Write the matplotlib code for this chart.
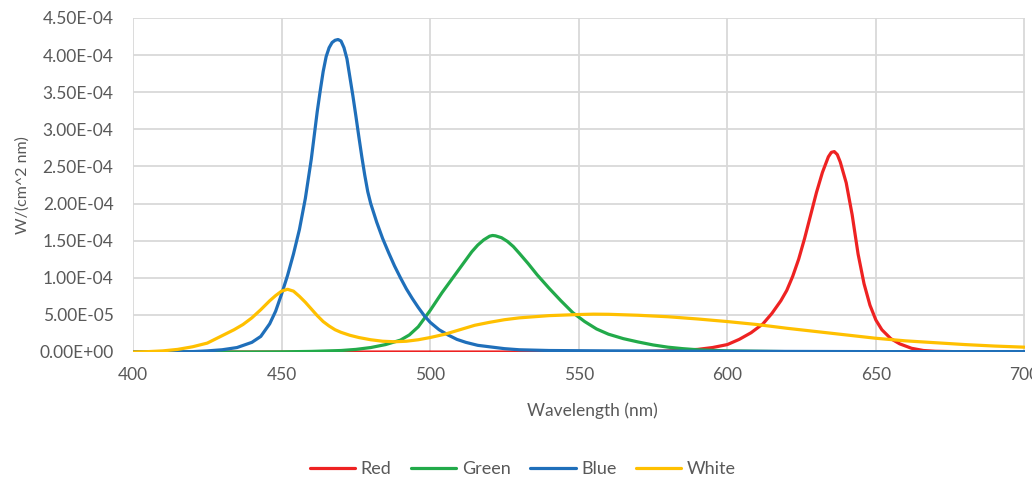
import matplotlib.pyplot as plt
from matplotlib.ticker import FuncFormatter, MultipleLocator

plt.rcParams['font.family'] = ['Lato', 'DejaVu Sans']

# spectra, values in 1e-5 W/(cm^2 nm)
red_nm = [400, 560, 570, 580, 590, 595, 600, 604, 608, 612, 615, 618, 620, 622, 624,
          626, 628, 630, 632, 634, 635, 636, 637, 638, 640, 642, 644, 646, 648, 650,
          652, 655, 658, 662, 666, 670, 680, 700]
red_val = [0, 0, 0.05, 0.15, 0.35, 0.6, 1.0, 1.7, 2.6, 3.8, 5.2, 6.9, 8.3, 10.2, 12.5,
           15.3, 18.4, 21.5, 24.2, 26.3, 26.9, 27.0, 26.6, 25.6, 22.8, 18.5, 13.2, 9.2, 6.3, 4.3,
           3.0, 1.8, 1.1, 0.5, 0.2, 0.1, 0.02, 0]

green_nm = [400, 440, 450, 460, 470, 475, 480, 485, 490, 493, 496, 498, 500, 502, 504,
            506, 508, 510, 512, 514, 516, 518, 520, 521, 522, 524, 526, 528, 530, 533,
            536, 540, 544, 548, 552, 556, 560, 565, 570, 575, 580, 585, 590, 600, 620,
            650, 700]
green_val = [0, 0, 0.02, 0.08, 0.2, 0.35, 0.6, 1.0, 1.6, 2.3, 3.4, 4.5, 5.6, 6.8, 8.0,
             9.1, 10.2, 11.3, 12.4, 13.5, 14.4, 15.1, 15.6, 15.7, 15.65, 15.4, 14.9, 14.2, 13.3, 11.9,
             10.4, 8.6, 6.9, 5.3, 4.1, 3.1, 2.4, 1.8, 1.35, 0.95, 0.65, 0.45, 0.3, 0.15, 0.05,
             0, 0]

blue_nm = [400, 410, 420, 425, 430, 435, 440, 443, 446, 448, 450, 452, 454, 456, 458,
           460, 461, 462, 463, 464, 465, 466, 467, 468, 469, 470, 471, 472, 473, 474,
           475, 476, 477, 478, 479, 480, 482, 484, 486, 488, 490, 492, 494, 496, 498,
           500, 503, 506, 509, 512, 516, 520, 525, 530, 540, 560, 600, 650, 700]
blue_val = [0, 0, 0.05, 0.15, 0.3, 0.6, 1.3, 2.1, 3.8, 5.5, 7.8, 10.3, 13.2, 16.5, 20.7,
            26.0, 29.2, 32.4, 35.2, 37.8, 39.8, 41.0, 41.7, 42.0, 42.1, 41.9, 41.0, 39.5, 37.0, 34.5,
            31.8, 29.0, 26.3, 23.8, 21.6, 20.0, 17.5, 15.3, 13.4, 11.6, 10.0, 8.5, 7.2, 6.0, 4.9,
            4.0, 3.0, 2.3, 1.7, 1.3, 0.9, 0.7, 0.45, 0.3, 0.2, 0.15, 0.1, 0.05, 0.05]

white_nm = [400, 405, 410, 415, 420, 425, 428, 431, 434, 437, 440, 443, 446, 448, 450,
            452, 454, 456, 458, 460, 462, 464, 466, 468, 470, 473, 476, 480, 484, 488,
            492, 496, 500, 505, 510, 515, 520, 525, 530, 540, 550, 555, 560, 570, 580,
            590, 600, 610, 620, 630, 640, 650, 660, 670, 680, 690, 700]
white_val = [0, 0.05, 0.15, 0.35, 0.7, 1.2, 1.8, 2.4, 3.0, 3.7, 4.6, 5.7, 6.9, 7.6, 8.2,
             8.45, 8.2, 7.5, 6.7, 5.8, 4.9, 4.1, 3.5, 3.0, 2.65, 2.25, 1.95, 1.65, 1.45, 1.38,
             1.45, 1.65, 1.95, 2.4, 3.0, 3.6, 4.0, 4.35, 4.6, 4.9, 5.05, 5.1, 5.08, 4.95, 4.75,
             4.45, 4.1, 3.7, 3.2, 2.75, 2.3, 1.85, 1.5, 1.25, 1.0, 0.8, 0.65]

series = [
    ('Red', red_nm, red_val, '#EE2222'),
    ('Green', green_nm, green_val, '#22AA4A'),
    ('Blue', blue_nm, blue_val, '#1F6FBA'),
    ('White', white_nm, white_val, '#FFC000'),
]

fig = plt.figure(figsize=(10.32, 4.83), dpi=100)
ax = fig.add_axes([133 / 1032, 1 - 352 / 483, 891.5 / 1032, 334 / 483])

for name, nm, val, col in series:
    ax.plot(nm, [v * 1e-5 for v in val], color=col, lw=2.3, label=name,
            solid_capstyle='round', solid_joinstyle='round', zorder=3)

ax.set_xlim(400, 700)
ax.set_ylim(0, 4.5e-4)
ax.xaxis.set_major_locator(MultipleLocator(50))
ax.yaxis.set_major_locator(MultipleLocator(0.5e-4))
ax.yaxis.set_major_formatter(FuncFormatter(lambda v, p: '{:.2E}'.format(v)))

ax.grid(True, color='#D9D9D9', lw=1.3, zorder=0)
for s in ax.spines.values():
    s.set_visible(False)
ax.tick_params(length=0, labelsize=12.5, labelcolor='#595959')
ax.tick_params(axis='y', pad=14)
ax.tick_params(axis='x', pad=11)

ax.set_xlabel('Wavelength (nm)', fontsize=12.5, color='#595959')
ax.xaxis.set_label_coords(0.515, -0.15)
ax.set_ylabel('W/(cm^2 nm)', fontsize=11.5, color='#595959')
ax.yaxis.set_label_coords(-0.116, 0.5)

leg = fig.legend(loc='center', bbox_to_anchor=(523 / 1032, 1 - 469 / 483), ncol=4,
                 frameon=False, fontsize=13, handlelength=2.5, handletextpad=0.3,
                 columnspacing=1.1)
for t in leg.get_texts():
    t.set_color('#595959')

fig.savefig('out.png', dpi=100)
